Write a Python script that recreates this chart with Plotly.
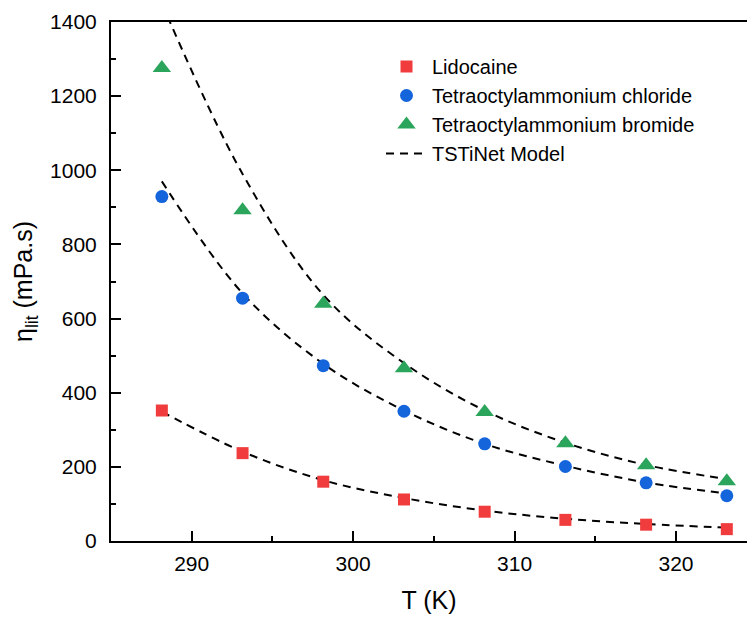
import plotly.graph_objects as go

T = [288.15, 293.15, 298.15, 303.15, 308.15, 313.15, 318.15, 323.15]
lidocaine = [352, 237, 160, 112, 79, 57, 44, 32]
chloride = [929, 655, 473, 350, 262, 201, 157, 122]
bromide = [1276, 892, 640, 466, 348, 264, 204, 161]

model_lidocaine = [349, 241, 164, 116, 82, 60, 46, 36]
model_chloride = [970, 668, 478, 352, 262, 203, 158, 128]
model_bromide = [1450, 990, 664, 480, 352, 265, 205, 167]

FONT = "Liberation Sans, Arial, sans-serif"
RED = "#F03C3C"
BLUE = "#1464DC"
GREEN = "#2CA55C"

fig = go.Figure()

dash_style = dict(color="black", width=2, dash="8px,6px", shape="spline")
for i, ys in enumerate([model_lidocaine, model_chloride, model_bromide]):
    fig.add_trace(go.Scatter(
        x=T, y=ys, mode="lines", line=dash_style,
        name="TSTiNet Model", showlegend=(i == 0), legendrank=4,
        hoverinfo="skip"))

fig.add_trace(go.Scatter(x=T, y=lidocaine, mode="markers", name="Lidocaine",
                         marker=dict(symbol="square", size=12, color=RED), legendrank=1))
fig.add_trace(go.Scatter(x=T, y=chloride, mode="markers", name="Tetraoctylammonium chloride",
                         marker=dict(symbol="circle", size=13, color=BLUE), legendrank=2))
fig.add_trace(go.Scatter(x=T, y=bromide, mode="markers", name="Tetraoctylammonium bromide",
                         marker=dict(symbol="triangle-up", size=16, color=GREEN), legendrank=3))

axis_common = dict(
    showgrid=False, zeroline=False, showline=True, linecolor="black", linewidth=2,
    ticks="inside", tickcolor="black", tickwidth=2, ticklen=10,
    tickfont=dict(family=FONT, size=21, color="black"),
)

fig.update_xaxes(
    **axis_common, range=[285, 324.4], tickvals=[290, 300, 310, 320], mirror=True,
    minor=dict(ticks="inside", tickvals=[295, 305, 315], ticklen=5, tickwidth=2, tickcolor="black"),
    title=dict(text="T (K)", font=dict(family=FONT, size=25, color="black"), standoff=17),
    ticklabelstandoff=3,
)
fig.update_yaxes(
    **axis_common, range=[0, 1400], tickvals=[0, 200, 400, 600, 800, 1000, 1200, 1400],
    minor=dict(ticks="inside", tickvals=[100, 300, 500, 700, 900, 1100, 1300], ticklen=5, tickwidth=2, tickcolor="black"),
    title=dict(text="η<sub>lit</sub> (mPa.s)", font=dict(family=FONT, size=25, color="black"), standoff=10),
    ticklabelstandoff=8,
)

pw = 747 - 111
ph = 619 - 22 - 78
fig.update_layout(
    width=747, height=619,
    margin=dict(l=111, r=0, t=22, b=78),
    plot_bgcolor="white", paper_bgcolor="white",
    font=dict(family=FONT, color="black"),
    legend=dict(
        x=(381 - 111) / pw, y=1 - (47 - 22) / ph, xanchor="left", yanchor="top",
        font=dict(family=FONT, size=20, color="black"),
        bgcolor="rgba(0,0,0,0)", itemwidth=41, traceorder="normal",
    ),
)

fig.write_html("out.html")
